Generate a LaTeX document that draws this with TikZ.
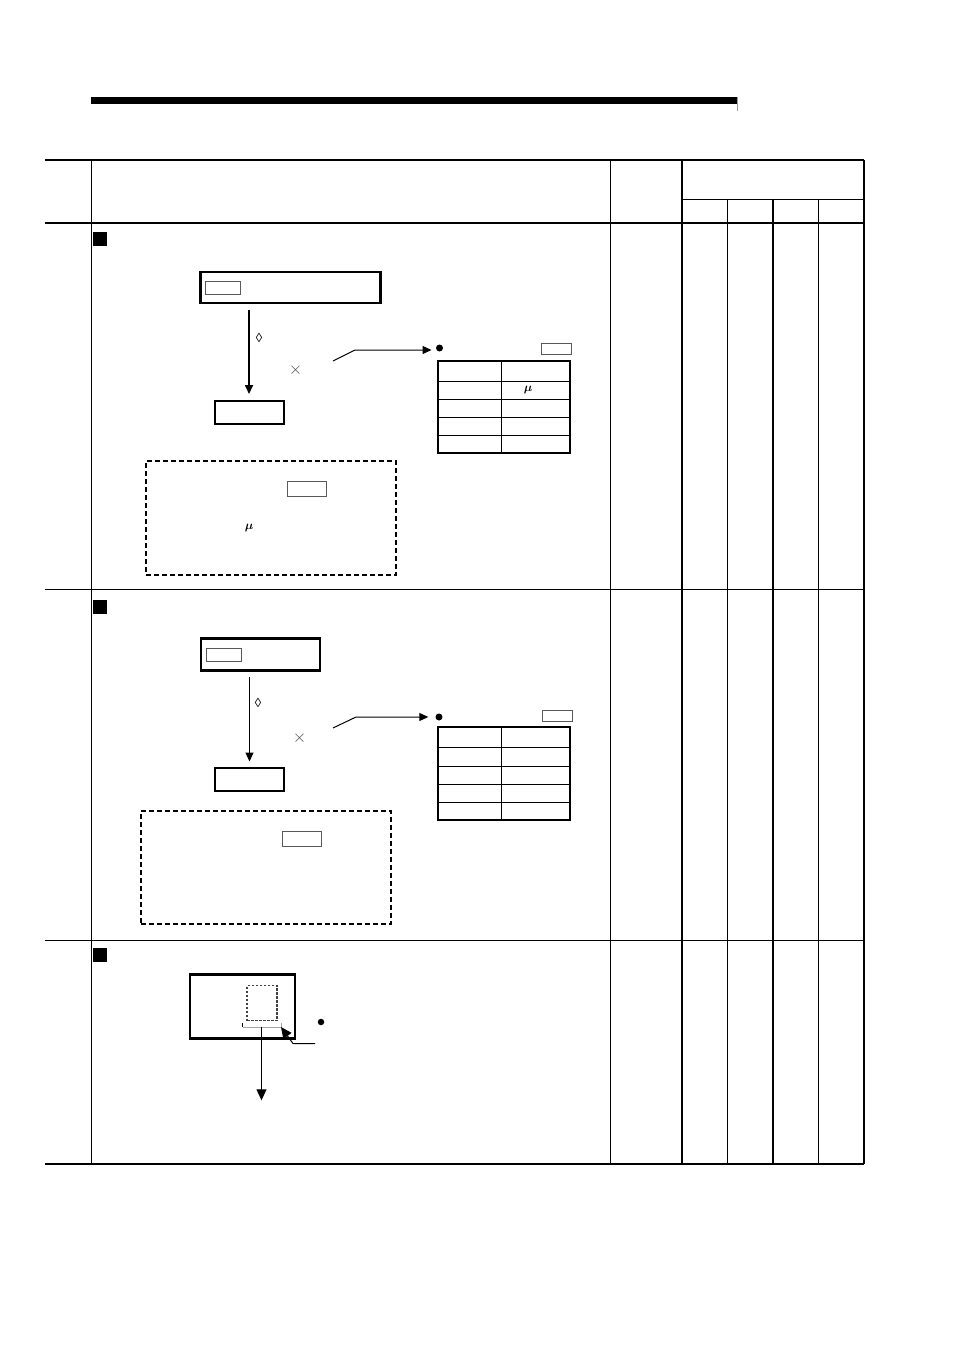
\documentclass[tikz,border=0pt]{standalone}
\usepackage{amsmath, amssymb}
\usepackage{fontspec}
\setmainfont{Liberation Sans}
\usetikzlibrary{
    arrows.meta,
    positioning
}

\begin{document}
\begin{tikzpicture}[
  x=1pt, y=-1pt,
  >={Triangle[length=9pt,width=8pt]},
  bigtip/.style    = {-{Triangle[length=11pt,width=10pt]}},
  thickrule/.style = {line width=2pt},
  thinrule/.style  = {line width=1pt},
  box/.style       = {rectangle, draw, line width=2.1pt, inner sep=0pt, outer sep=0pt},
  tag/.style       = {rectangle, draw=black!65, line width=1pt, inner sep=0pt, outer sep=0pt,
                      minimum width=35pt, minimum height=13pt},
  note/.style      = {rectangle, draw, line width=1.5pt, dash pattern=on 5pt off 3pt,
                      inner sep=0pt, outer sep=0pt, minimum width=250pt},
  tablebox/.style  = {rectangle, draw, line width=1.2pt, inner sep=0pt, outer sep=0pt,
                      minimum width=132pt},
  marker/.style    = {rectangle, fill=black, inner sep=0pt, minimum size=14pt},
  dot/.style       = {circle, fill=black, inner sep=0pt, minimum size=7pt},
  sign/.style      = {inner sep=0pt, font=\fontsize{13}{13}\selectfont\boldmath},
  cross/.style     = {inner sep=0pt, text=black!70, font=\fontsize{19}{19}\selectfont}
]
\useasboundingbox (0,0) rectangle (954,1351);

% Header bar
\fill (91,97) rectangle (737,104);
\draw[black!40, line width=0.8pt] (737,97) -- (737,111);

% Table rules
\draw[thickrule] (45,160) -- (864,160);
\draw[thickrule] (45,223) -- (864,223);
\draw[thinrule] (45,589) -- (864,589);
\draw[thinrule] (45,940) -- (864,940);
\draw[thickrule] (45,1164) -- (864,1164);
\draw[thinrule] (682,199.5) -- (864,199.5);
\draw[thinrule] (91,160) -- (91,1164);
\draw[thinrule] (610.5,160) -- (610.5,1164);
\draw[thickrule] (682,160) -- (682,1164);
\draw[thinrule] (727.5,199.5) -- (727.5,1164);
\draw[thickrule] (773,199.5) -- (773,1164);
\draw[thinrule] (818.5,199.5) -- (818.5,1164);
\draw[thickrule] (864,160) -- (864,1164);

% Section markers
\foreach \name/\ypos in {markA/239, markB/607, markC/955}
  \node[marker] (\name) at (100,\ypos) {};

% First row
\node[box, minimum width=180pt, minimum height=31pt] (topA) at (290.5,287.5) {};
\node[tag] (tagA) at (223,288) {};
\node[box, minimum width=69pt, minimum height=23pt] (lowA) at (249.5,412.5) {};
\draw[->, line width=1.7pt, shorten <=6.5pt, shorten >=7pt] (249,303) -- (249,401);
\node[sign] (diamA) at (259,338) {◊};
\node[cross] (crossA) at (295.5,370) {$\times$};

\node[dot] (dotA) at (439.5,348) {};
\node[tag, minimum width=30pt, minimum height=11pt] (tagAb) at (556,348.5) {};
\coordinate (leadA) at (333,361);
\draw[->, line width=1pt, shorten >=8pt] (leadA) -- (355,350) -- (dotA.center |- 0,350);

\node[tablebox, minimum height=92pt] (tabA) at (504,407) {};
\draw[thinrule] (501,361) -- (501,453);
\foreach \ypos in {381,399,417,435}
  \draw[thinrule] (438,\ypos) -- (570,\ypos);
\node[sign] (muA) at (528,390) {$\mu$};

\node[note, minimum height=114pt] (noteA) at (271,518) {};
\node[tag, minimum width=39pt, minimum height=15pt] (tagAc) at (306.5,488.5) {};
\node[sign] (muAb) at (249,528) {$\mu$};

% Second row
\node[box, minimum width=119pt, minimum height=32pt] (topB) at (260.5,654.5) {};
\node[tag] (tagB) at (223.5,655) {};
\node[box, minimum width=69pt, minimum height=23pt] (lowB) at (249.5,779.5) {};
\draw[->, line width=1pt, shorten <=6.5pt, shorten >=6.5pt] (249.5,670.5) -- (249.5,768);
\node[sign] (diamB) at (258,703) {◊};
\node[cross] (crossB) at (299.5,738) {$\times$};

\node[dot] (dotB) at (439,717) {};
\node[tag, minimum width=30pt, minimum height=11pt] (tagBb) at (557,715.5) {};
\coordinate (leadB) at (333,728);
\draw[->, line width=1pt, shorten >=7pt] (leadB) -- (356,717) -- (dotB);

\node[tablebox, minimum height=93pt] (tabB) at (504,773.5) {};
\draw[thinrule] (501,727) -- (501,820);
\foreach \ypos in {747,766,784,802}
  \draw[thinrule] (438,\ypos) -- (570,\ypos);

\node[note, minimum height=113pt] (noteB) at (266,867.5) {};
\node[tag, minimum width=39pt, minimum height=15pt] (tagBc) at (301.5,838.5) {};

% Third row
\node[box, minimum width=105pt, minimum height=64pt] (topC) at (242.5,1006.5) {};
\node[rectangle, draw=black!75, line width=1.5pt, dash pattern=on 2.5pt off 1.5pt, inner sep=0pt,
      minimum width=30pt, minimum height=35pt] (winC) at (262,1003) {};
\coordinate (barL) at (242.5,1027);
\coordinate (barR) at (281,1027);
\draw[black!35, line width=1pt] (barL) -- (barR) -- ++(0,-4);
\draw[thinrule] (barL) -- ++(0,-4);
\node[inner sep=0pt, minimum size=1pt] (endC) at (261.5,1101) {};
\draw[bigtip, line width=1pt] (261.5,1027) -- (endC);
\node[dot, minimum size=6.5pt] (dotC) at (321,1022) {};
\coordinate (leadC) at (315,1043.5);
\draw[bigtip, line width=1pt] (leadC) -- (293,1043.5) -- (barR);

\end{tikzpicture}
\end{document}
